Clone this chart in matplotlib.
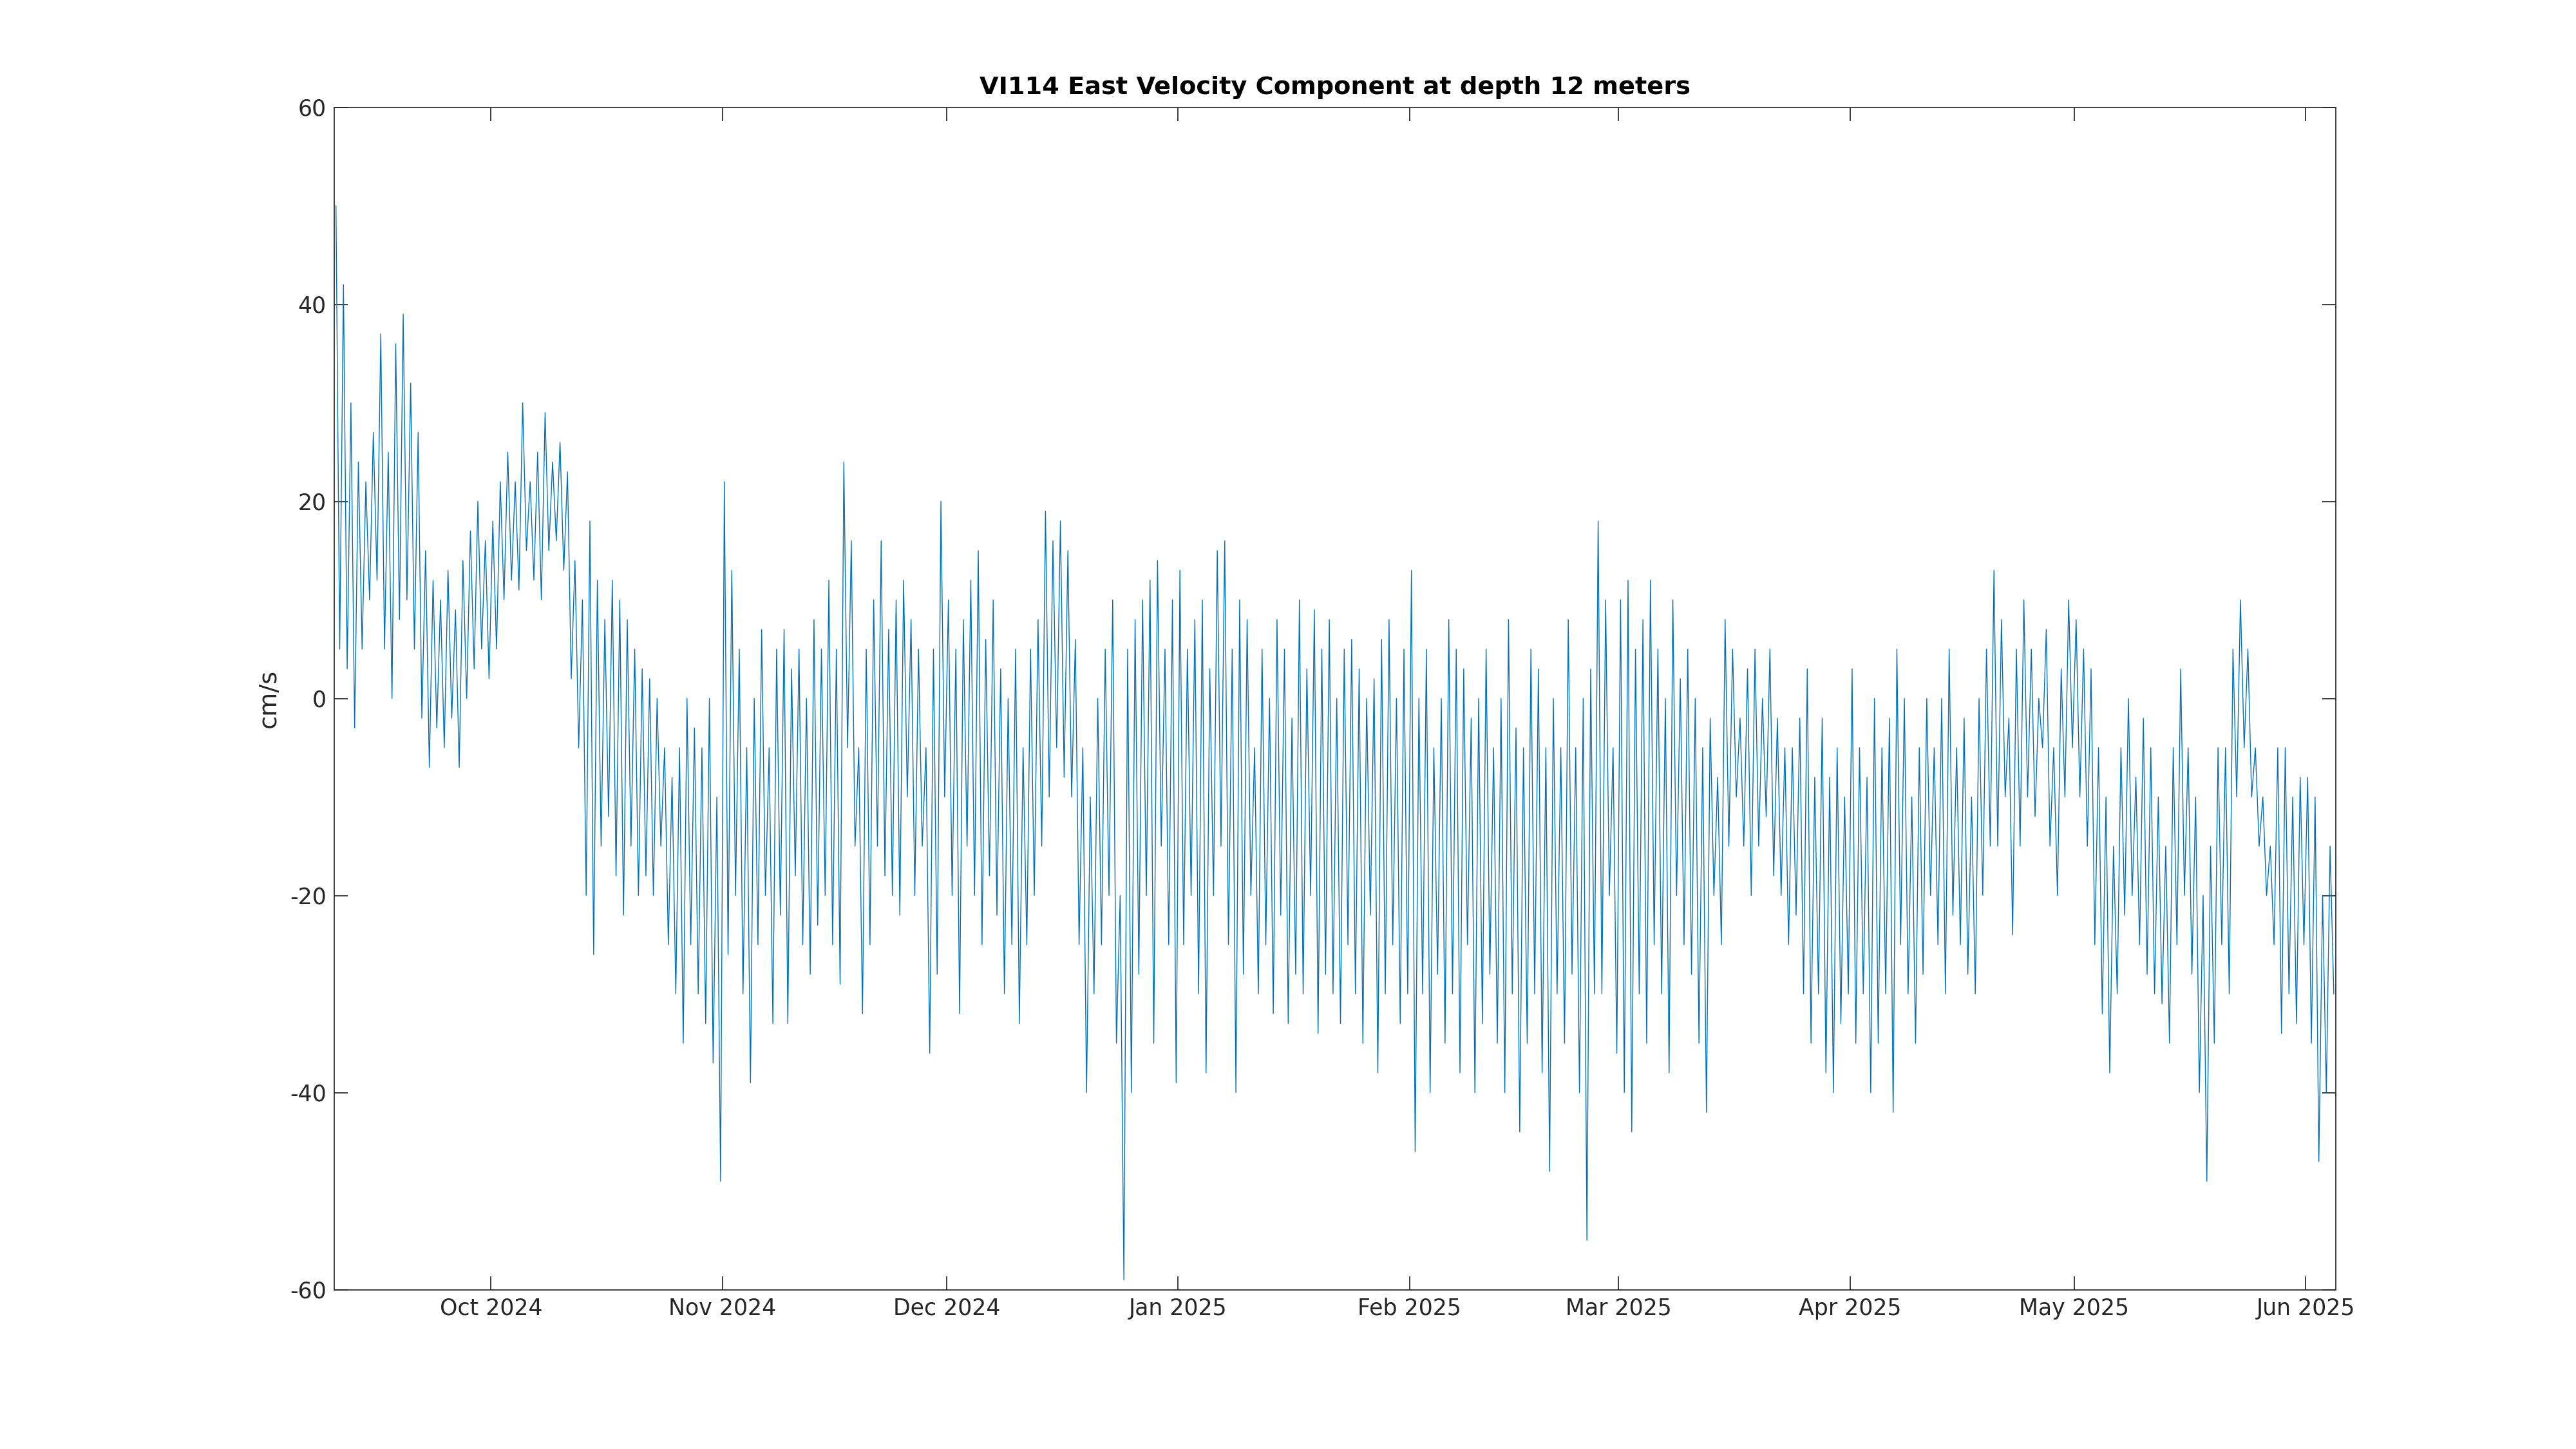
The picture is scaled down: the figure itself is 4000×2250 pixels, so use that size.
import matplotlib
matplotlib.use("Agg")
import matplotlib.pyplot as plt
import matplotlib.dates as mdates
import datetime as dt

start_date = dt.datetime(2024, 9, 10)
hi_sep = [50,42,30,24,22,27,37,25,36,39,32,27,15,12,10,13,9,14,17,20,16]
lo_sep = [5,3,-3,5,10,12,5,0,8,10,5,-2,-7,-3,-5,-2,-7,0,3,5,2]
hi_oct = [18,22,25,22,30,22,25,29,24,26,23,14,10,18,12,8,12,10,8,5,3,2,0,-5,-8,-5,0,-3,-5,0,-10]
lo_oct = [5,10,12,11,15,12,10,15,16,13,2,-5,-20,-26,-15,-12,-18,-22,-15,-20,-18,-20,-15,-25,-30,-35,-25,-30,-33,-37,-49]
hi_nov = [22,13,5,-5,0,7,-5,5,7,3,5,0,8,5,12,5,24,16,-5,5,10,16,7,10,12,8,5,-5,5,20]
lo_nov = [-26,-20,-30,-39,-25,-20,-33,-22,-33,-18,-25,-28,-23,-20,-25,-29,-5,-15,-32,-25,-15,-18,-20,-22,-10,-20,-15,-36,-28,-10]
hi_dec = [10,5,8,12,15,6,10,3,0,5,-5,5,8,19,16,18,15,6,-5,-10,0,5,10,-20,5,8,10,12,14,5,10]
lo_dec = [-20,-32,-15,-20,-25,-18,-22,-30,-25,-33,-25,-20,-15,-10,-5,-8,-10,-25,-40,-30,-25,-20,-35,-59,-40,-28,-20,-35,-15,-25,-39]
hi_jan = [13,5,8,10,3,15,16,5,10,8,-5,5,0,8,5,-2,10,3,9,5,8,0,5,6,3,0,2,6,8,0,5]
lo_jan = [-25,-20,-30,-38,-20,-15,-25,-40,-28,-20,-30,-25,-32,-22,-33,-28,-30,-20,-34,-28,-30,-33,-25,-30,-35,-22,-38,-30,-25,-33,-30]
hi_feb = [13,0,5,-5,0,8,5,3,-2,0,5,-5,0,8,-3,-5,5,3,-5,0,-5,8,-5,0,3,18,10,-5]
lo_feb = [-46,-30,-40,-28,-35,-30,-38,-25,-40,-33,-28,-35,-40,-30,-44,-35,-30,-38,-48,-30,-35,-28,-40,-55,-30,-30,-20,-36]
hi_mar = [10,12,5,8,12,5,0,10,2,5,0,-5,-2,-8,8,5,-2,3,5,0,5,-2,-5,-5,-2,3,-8,-2,-8,-5,-10]
lo_mar = [-40,-44,-30,-35,-25,-30,-38,-20,-25,-28,-35,-42,-20,-25,-15,-10,-15,-20,-15,-12,-18,-20,-25,-22,-30,-35,-30,-38,-40,-33,-30]
hi_apr = [3,-5,-8,0,-5,-2,5,0,-10,-5,0,-5,0,5,-5,-2,-10,0,5,13,8,-2,5,10,5,0,7,-5,3,10]
lo_apr = [-35,-30,-40,-35,-30,-42,-25,-30,-35,-28,-20,-25,-30,-22,-25,-28,-30,-20,-15,-15,-10,-24,-15,-10,-12,-5,-15,-20,-10,-5]
hi_may = [8,5,3,-5,-10,-15,-5,0,-8,-2,-5,-10,-15,-5,3,-5,-10,-20,-15,-5,-5,5,10,5,-5,-10,-15,-5,-5,-10,-8]
lo_may = [-10,-15,-25,-32,-38,-30,-22,-20,-25,-28,-30,-31,-35,-25,-20,-28,-40,-49,-35,-25,-30,-10,-5,-10,-15,-20,-25,-34,-30,-33,-25]
hi_jun = [-8,-10,-20,-15]
lo_jun = [-35,-47,-40,-30]

hi = hi_sep+hi_oct+hi_nov+hi_dec+hi_jan+hi_feb+hi_mar+hi_apr+hi_may+hi_jun
lo = lo_sep+lo_oct+lo_nov+lo_dec+lo_jan+lo_feb+lo_mar+lo_apr+lo_may+lo_jun

times, vals = [], []
for i, (h, l) in enumerate(zip(hi, lo)):
    d = start_date + dt.timedelta(days=i)
    times += [d + dt.timedelta(hours=6), d + dt.timedelta(hours=18)]
    vals += [h, l]

plt.rcParams['font.family'] = ['DejaVu Sans']
plt.rcParams['axes.unicode_minus'] = False
fig = plt.figure(figsize=(16, 9), dpi=250)
ax = fig.add_axes([0.1297, 0.110, 0.777, 0.816])
ax.plot(times, vals, color='#0072BD', lw=0.4)
ax.set_xlim(start_date, dt.datetime(2025, 6, 5))
ax.set_ylim(-60, 60)
ax.set_yticks(range(-60, 61, 20))
ax.xaxis.set_major_locator(mdates.MonthLocator())
ax.xaxis.set_major_formatter(mdates.DateFormatter('%b %Y'))
ax.tick_params(direction='in', top=True, right=True, labelsize=10, color='#262626', labelcolor='#262626', length=6, width=0.5)
for s in ax.spines.values():
    s.set_linewidth(0.5); s.set_color('#262626')
ax.set_ylabel('cm/s', fontsize=11, color='#262626')
ax.set_title('VI114 East Velocity Component at depth 12 meters', fontsize=11, fontweight='bold')
fig.savefig('out.png')
